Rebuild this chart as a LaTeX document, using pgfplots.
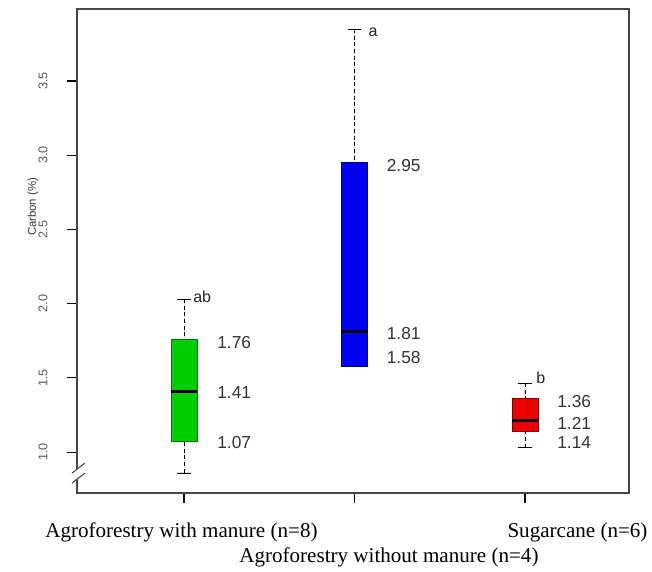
\documentclass[border=0pt]{standalone}
\usepackage{fontspec}
\setmainfont{Liberation Sans}
\newfontfamily\timesfont{Liberation Serif}
\usepackage{pgfplots}
\usepgfplotslibrary{statistics}
\pgfplotsset{compat=1.18}

\definecolor{rgreen}{RGB}{0,205,0}
\definecolor{rblue}{RGB}{0,0,240}
\definecolor{rred}{RGB}{238,0,0}
\definecolor{axgray}{RGB}{70,70,70}

% R-style whiskers: dashed stem, solid cap
\pgfplotsset{
  rbox/.style={
    boxplot/draw direction=y,
    boxplot/box extend=0.15,
    boxplot/whisker extend=0.08,
    boxplot/every median/.style={line width=2.2pt, black},
    boxplot/draw/lower whisker/.code={
      \draw[black, dash pattern=on 3pt off 2pt]
        (boxplot cs:\pgfplotsboxplotvalue{lower whisker}) --
        (boxplot cs:\pgfplotsboxplotvalue{lower quartile});
      \draw[black]
        (boxplot whisker cs:\pgfplotsboxplotvalue{lower whisker},0) --
        (boxplot whisker cs:\pgfplotsboxplotvalue{lower whisker},1);
    },
    boxplot/draw/upper whisker/.code={
      \draw[black, dash pattern=on 3pt off 2pt]
        (boxplot cs:\pgfplotsboxplotvalue{upper whisker}) --
        (boxplot cs:\pgfplotsboxplotvalue{upper quartile});
      \draw[black]
        (boxplot whisker cs:\pgfplotsboxplotvalue{upper whisker},0) --
        (boxplot whisker cs:\pgfplotsboxplotvalue{upper whisker},1);
    },
  },
}
\tikzset{
  num/.style={anchor=west, inner sep=0pt, text=black!80, font=\fontsize{13}{15}\selectfont},
  lett/.style={anchor=west, inner sep=0pt, text=black!85, font=\fontsize{12}{14}\selectfont},
  cat/.style={anchor=base, inner sep=0pt, font=\timesfont\fontsize{15.8}{18}\selectfont},
}

\begin{document}
\begin{tikzpicture}
\begin{axis}[
    scale only axis,
    width=414pt, height=363pt,
    xmin=0.3724, xmax=3.61,
    ymin=0.724, ymax=3.985,
    clip=false,
    axis line style={axgray, line width=0.8pt},
    tick style={black, line width=0.8pt},
    tick align=outside,
    major tick length=7.5pt,
    xtick={1,2,3}, xticklabels={},
    xtick pos=bottom, ytick pos=left,
    ytick={1,1.5,2,2.5,3,3.5},
    yticklabel style={xshift=-11pt, rotate=90, anchor=south, text=black!65,
      font=\fontsize{9.5}{11}\selectfont},
    /pgf/number format/assume math mode=true,
    /pgf/number format/.cd, fixed, fixed zerofill, precision=1,
]
% Agroforestry with manure
\addplot[rbox, fill=rgreen, draw=rgreen!60!black,
  boxplot prepared={draw position=1,
    lower whisker=0.86, lower quartile=1.07, median=1.41,
    upper quartile=1.76, upper whisker=2.03}] coordinates {};
% Agroforestry without manure
\addplot[rbox, fill=rblue, draw=rblue!50!black,
  boxplot prepared={draw position=2,
    lower whisker=1.58, lower quartile=1.58, median=1.81,
    upper quartile=2.95, upper whisker=3.85}] coordinates {};
% Sugarcane
\addplot[rbox, fill=rred, draw=rred!55!black,
  boxplot prepared={draw position=3,
    lower whisker=1.03, lower quartile=1.14, median=1.21,
    upper quartile=1.36, upper whisker=1.465}] coordinates {};

\node[num] at (axis cs:1.194,1.74) {1.76};
\node[num] at (axis cs:1.194,1.40) {1.41};
\node[num] at (axis cs:1.194,1.067) {1.07};
\node[num] at (axis cs:2.188,2.93) {2.95};
\node[num] at (axis cs:2.188,1.80) {1.81};
\node[num] at (axis cs:2.188,1.635) {1.58};
\node[num] at (axis cs:3.188,1.337) {1.36};
\node[num] at (axis cs:3.188,1.195) {1.21};
\node[num] at (axis cs:3.188,1.067) {1.14};

\node[lett] at (axis cs:1.053,2.045) {ab};
\node[lett] at (axis cs:2.082,3.83) {a};
\node[lett] at (axis cs:3.065,1.50) {b};

\node[rotate=90, font=\fontsize{8.5}{10}\selectfont, text=black!80]
  at (axis cs:0.114,2.651) {Carbon (\%)};

\node[cat] at (axis cs:0.985,0.724) [yshift=-33.75pt] {Agroforestry with manure (n=8)};
\node[cat] at (axis cs:3.308,0.724) [yshift=-33.75pt] {Sugarcane (n=6)};
\node[cat] at (axis cs:2.202,0.724) [yshift=-52.5pt] {Agroforestry without manure (n=4)};

\coordinate (s1a) at (axis cs:0.343,0.858);
\coordinate (s1b) at (axis cs:0.419,0.926);
\coordinate (s2a) at (axis cs:0.343,0.791);
\coordinate (s2b) at (axis cs:0.419,0.858);
\coordinate (sw) at (rel axis cs:0,0);
\coordinate (ne) at (rel axis cs:1,1);
\end{axis}
% axis break
\fill[white] (s1a) -- (s1b) -- (s2b) -- (s2a) -- cycle;
\draw[axgray, line width=0.8pt] (s1a) -- (s1b) (s2a) -- (s2b);
\pgfresetboundingbox
\useasboundingbox ([shift={(-57.75pt,-59.25pt)}]sw) rectangle ([shift={(17.25pt,6.75pt)}]ne);
\end{tikzpicture}
\end{document}
